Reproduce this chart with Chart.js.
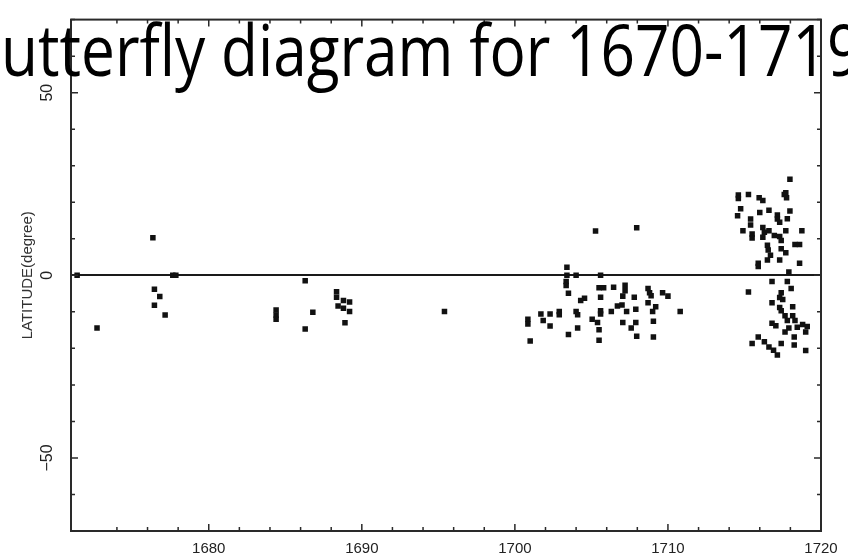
<!DOCTYPE html>
<html>
<head>
<meta charset="utf-8">
<script src="https://cdn.jsdelivr.net/npm/chart.js@4.4.0/dist/chart.umd.min.js"></script>
<style>
  html, body { margin: 0; padding: 0; background: #fff; }
  #wrap { width: 848px; height: 555px; position: relative; }
</style>
</head>
<body>
<div id="wrap"><canvas id="chart"></canvas></div>
<script>
const titleText = 'Butterfly diagram for 1670-1719';
const yearLabels = [1680, 1690, 1700, 1710, 1720];
const latLabels = [-50, 0, 50];

// sunspot groups: observation year and heliographic latitude (deg)
const spotYear = [
  1671.4, 1672.7, 1676.35, 1677.65, 1677.85, 1676.45, 1676.8, 1676.45, 1677.15,
  1684.4, 1684.4, 1684.4, 1686.3, 1686.3, 1686.8,
  1688.35, 1688.35, 1688.8, 1689.2, 1688.45, 1688.8, 1689.2, 1688.9, 1695.4,
  1705.27, 1707.96, 1703.4, 1703.4, 1703.35, 1703.35, 1704.0, 1705.6, 1703.5,
  1705.5, 1705.8, 1706.45, 1707.2, 1707.2, 1708.7, 1708.8, 1708.9, 1709.65, 1710.0,
  1704.55, 1704.3, 1705.6, 1707.05, 1707.8, 1705.6, 1705.6, 1706.3, 1706.7, 1707.0,
  1707.3, 1707.9, 1708.7, 1709.2, 1709.0, 1710.8, 1704.0, 1704.1, 1702.9, 1702.9,
  1702.3, 1701.7, 1701.85, 1700.85, 1700.85, 1702.3, 1701.0, 1703.5, 1704.1, 1705.05,
  1705.4, 1705.5, 1705.5, 1707.05, 1707.6, 1707.9, 1707.96, 1709.05, 1709.05,
  1717.97, 1714.6, 1714.6, 1715.26, 1715.96, 1716.2, 1717.6, 1717.75, 1717.7,
  1714.75, 1714.55, 1715.4, 1715.4, 1716.0, 1716.6, 1717.15, 1717.15, 1717.3, 1717.8,
  1717.97, 1714.9, 1715.5, 1715.5, 1716.2, 1716.3, 1716.2, 1716.6, 1716.95, 1717.3,
  1717.7, 1718.75, 1717.4, 1716.5, 1716.55, 1718.3, 1718.6, 1717.4, 1717.7, 1716.7,
  1716.5, 1717.3, 1715.9, 1715.9, 1718.6, 1717.9,
  1716.8, 1717.8, 1718.05, 1715.26, 1717.4, 1717.3, 1717.5, 1716.8, 1717.3, 1717.4,
  1718.15, 1717.65, 1718.15, 1717.8, 1718.3, 1716.8, 1717.05, 1717.9, 1718.45, 1718.8,
  1719.1, 1719.0, 1717.65, 1718.25, 1717.4, 1715.9, 1715.5, 1716.3, 1716.6, 1717.15,
  1719.0, 1718.25, 1716.9
];
const spotLat = [
  0, -14.4, 10.3, 0, 0, -3.8, -5.8, -8.2, -10.9,
  -9.5, -10.9, -12, -1.5, -14.7, -10.1,
  -4.5, -6, -6.9, -7.3, -8.4, -9, -9.9, -13, -9.9,
  12.1, 13.0, 2.2, 0, -1.7, -2.8, 0, 0, -4.9,
  -3.4, -3.4, -3.3, -2.7, -4.2, -3.6, -4.8, -5.6, -4.8, -5.7,
  -6.3, -6.9, -6.0, -5.7, -6.0, -9.7, -10.6, -9.9, -8.4, -8.1,
  -9.9, -9.3, -7.5, -8.6, -9.9, -9.9, -9.9, -10.8, -9.9, -10.8,
  -10.6, -10.6, -12.4, -12, -13.3, -13.9, -18, -16.2, -14.4, -12,
  -12.9, -14.9, -17.8, -12.9, -14.4, -12.9, -16.7, -12.6, -16.9,
  26.3, 22, 21, 22.1, 21.2, 20.5, 22.1, 21.2, 22.6,
  18.2, 16.3, 15.4, 13.8, 17.2, 17.8, 16.5, 15.4, 14.5, 15.5,
  17.6, 12.2, 11.3, 10.2, 13.1, 11.8, 10.4, 12.2, 10.9, 10.6,
  12.2, 12.2, 9.5, 8.2, 6.9, 8.4, 8.4, 7.3, 6.2, 5.5,
  4.2, 4.2, 3.3, 2.4, 3.3, 0.9,
  -1.7, -1.7, -3.6, -4.6, -4.8, -6.1, -6.6, -7.5, -8.8, -9.7,
  -8.6, -11.1, -11.1, -12.4, -12.4, -13.1, -13.8, -14.4, -14.2, -13.5,
  -14.0, -15.5, -15.5, -16.9, -18.7, -16.9, -18.7, -18.2, -19.6, -21.8,
  -20.6, -19.1, -20.5
];

const points = spotYear.map((yr, i) => ({ x: yr, y: spotLat[i] }));

// box frame with inward tick marks on all four sides
const frameTicks = {
  id: 'frameTicks',
  afterDatasetsDraw(chart) {
    const { ctx, chartArea: a, scales: { x, y } } = chart;
    ctx.save();
    ctx.strokeStyle = '#2a2a2a';
    ctx.lineWidth = 2;
    ctx.strokeRect(a.left, a.top, a.right - a.left, a.bottom - a.top);
    ctx.lineWidth = 1.5;
    ctx.beginPath();
    x.ticks.forEach(t => {
      if (t.value % 2 !== 0) return;
      const px = x.getPixelForValue(t.value);
      const len = t.value % 10 === 0 ? 7 : 4;
      ctx.moveTo(px, a.bottom); ctx.lineTo(px, a.bottom - len);
      ctx.moveTo(px, a.top); ctx.lineTo(px, a.top + len);
    });
    y.ticks.forEach(t => {
      const py = y.getPixelForValue(t.value);
      const len = t.value % 50 === 0 ? 7 : 4;
      ctx.moveTo(a.left, py); ctx.lineTo(a.left + len, py);
      ctx.moveTo(a.right, py); ctx.lineTo(a.right - len, py);
    });
    ctx.stroke();
    ctx.restore();
  }
};

// large title laid over the top of the plot
const bigTitle = {
  id: 'bigTitle',
  afterDraw(chart) {
    const ctx = chart.ctx;
    ctx.save();
    ctx.font = '72px "Open Sans"';
    ctx.fillStyle = '#000';
    ctx.textBaseline = 'alphabetic';
    const lead = ctx.measureText('B').width;
    const span = ctx.measureText('utterfly diagram for 1670-171').width;
    const sx = 826 / span;
    ctx.translate(1 - lead * sx, 76);
    ctx.scale(sx, 1);
    ctx.fillText(titleText, 0, 0);
    ctx.restore();
  }
};

new Chart(document.getElementById('chart'), {
  type: 'scatter',
  data: {
    datasets: [{
      label: 'spots',
      data: points,
      pointStyle: 'rect',
      pointRadius: 3.9,
      backgroundColor: '#111',
      borderWidth: 0
    }]
  },
  plugins: [frameTicks, bigTitle],
  options: {
    responsive: true,
    maintainAspectRatio: false,
    animation: false,
    events: [],
    layout: { padding: { left: 1, right: 27, top: 10, bottom: 0 } },
    plugins: {
      legend: { display: false },
      tooltip: { enabled: false },
      title: { display: false }
    },
    scales: {
      x: {
        type: 'linear',
        min: 1671,
        max: 1720,
        afterFit(scale) { scale.height = 24; },
        grid: { display: false, drawTicks: false },
        border: { display: false },
        ticks: {
          stepSize: 2,
          autoSkip: false,
          maxRotation: 0,
          padding: 9,
          color: '#222',
          font: { family: 'Liberation Sans', size: 15 },
          callback: v => yearLabels.includes(v) ? String(v) : ''
        }
      },
      y: {
        type: 'linear',
        min: -70,
        max: 70,
        afterFit(scale) { scale.width = 70; },
        grid: {
          drawTicks: false,
          color: c => c.tick && c.tick.value === 0 ? '#1a1a1a' : 'rgba(0,0,0,0)',
          lineWidth: 2
        },
        border: { display: false },
        title: {
          display: true,
          text: 'LATITUDE(degree)',
          color: '#333',
          font: { family: 'Liberation Sans', size: 15 },
          padding: { top: 18, bottom: 0 }
        },
        ticks: {
          stepSize: 10,
          autoSkip: false,
          minRotation: 90,
          maxRotation: 90,
          crossAlign: 'center',
          padding: 10,
          color: '#222',
          font: { family: 'Liberation Sans', size: 16 },
          callback: v => latLabels.includes(v) ? String(v).replace('-', '\u2212') : ''
        }
      }
    }
  }
});
</script>
</body>
</html>
